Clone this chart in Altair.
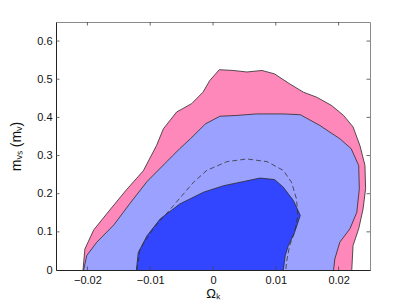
import altair as alt
import pandas as pd

# Outer (pink) 95% contour
pink_x = [-0.0207, -0.0204, -0.0190, -0.0163, -0.0138, -0.0111, -0.0090, -0.0079, -0.0058, -0.0034,
          -0.0016, -0.0005, 0.0010, 0.0032, 0.0054, 0.0078, 0.0098, 0.0122, 0.0144, 0.0165,
          0.0189, 0.0208, 0.0223, 0.0234, 0.0242, 0.0243, 0.0239, 0.0232, 0.0223, 0.0221]
pink_y = [0.0, 0.055, 0.105, 0.160, 0.210, 0.260, 0.326, 0.370, 0.414, 0.436,
          0.466, 0.497, 0.525, 0.523, 0.519, 0.523, 0.514, 0.488, 0.466, 0.453,
          0.431, 0.405, 0.375, 0.326, 0.274, 0.213, 0.160, 0.108, 0.064, 0.0]

# Light blue 95% contour
lblue_x = [-0.0206, -0.0201, -0.0185, -0.0158, -0.0132, -0.0105, -0.0073, -0.0053, -0.0036, -0.0012,
           0.0011, 0.0037, 0.0069, 0.0112, 0.0139, 0.0170, 0.0202, 0.0220, 0.0232, 0.0233,
           0.0229, 0.0218, 0.0202, 0.0194, 0.0192]
lblue_y = [0.0, 0.038, 0.073, 0.118, 0.175, 0.232, 0.285, 0.318, 0.344, 0.383,
           0.403, 0.405, 0.409, 0.409, 0.407, 0.379, 0.344, 0.318, 0.274, 0.213,
           0.151, 0.108, 0.073, 0.029, 0.0]

# Dark blue 68% contour
dblue_x = [-0.0122, -0.0119, -0.0105, -0.0084, -0.0053, -0.0015, 0.0017, 0.0049, 0.0075, 0.0098,
           0.0112, 0.0128, 0.0139, 0.0130, 0.0120, 0.0115, 0.0112]
dblue_y = [0.0, 0.046, 0.090, 0.134, 0.173, 0.204, 0.221, 0.232, 0.241, 0.237,
           0.217, 0.182, 0.143, 0.099, 0.064, 0.038, 0.0]

# Dashed 68% contour
dash_x = [-0.0121, -0.0116, -0.0095, -0.0063, -0.0031, -0.0010, 0.0022, 0.0054, 0.0086, 0.0112,
          0.0125, 0.0133, 0.0135, 0.0130, 0.0122, 0.0117, 0.0116]
dash_y = [0.0, 0.055, 0.108, 0.169, 0.230, 0.261, 0.284, 0.291, 0.284, 0.261,
          0.230, 0.186, 0.143, 0.099, 0.064, 0.020, 0.0]

x_ticks = [-0.02, -0.01, 0.0, 0.01, 0.02]
y_ticks = [0.0, 0.1, 0.2, 0.3, 0.4, 0.5, 0.6]

W, H = 314, 248
FONT = "Liberation Sans"

def frame(xs, ys):
    return pd.DataFrame({"x": xs, "y": ys, "i": list(range(len(xs)))})

xscale = alt.Scale(domain=[-0.025, 0.025], nice=False, zero=False)
yscale = alt.Scale(domain=[0, 0.65], nice=False, zero=False)

xenc = alt.X("x:Q", scale=xscale,
             axis=alt.Axis(values=x_ticks, format=".2~f", title="Ωₖ", tickSize=0,
                           labelPadding=4, titleY=27, titleBaseline="alphabetic", grid=False))
yenc = alt.Y("y:Q", scale=yscale,
             axis=alt.Axis(values=y_ticks, format=".1~f", title="mᵥₛ (mᵥ)", tickSize=0,
                           labelPadding=4, titlePadding=13, titleFontSize=14, grid=False))

def poly(xs, ys, color):
    return alt.Chart(frame(xs, ys)).mark_line(
        filled=True, fill=color, stroke="#2a2a2a", strokeWidth=0.8, interpolate="linear"
    ).encode(x=xenc, y=yenc, order=alt.Order("i:Q"))

pink = poly(pink_x, pink_y, "#FF88BB")
lblue = poly(lblue_x, lblue_y, "#9BA1FF")
dblue = poly(dblue_x, dblue_y, "#3346FF")

dashed = alt.Chart(frame(dash_x, dash_y)).mark_line(
    stroke="#333333", strokeWidth=0.8, strokeDash=[5, 3]
).encode(x=alt.X("x:Q", scale=xscale), y=alt.Y("y:Q", scale=yscale), order=alt.Order("i:Q"))

xt = pd.DataFrame({"t": x_ticks})
yt = pd.DataFrame({"t": y_ticks[1:]})
tick_col = "#444444"
bottom_ticks = alt.Chart(xt).mark_rule(color=tick_col, strokeWidth=0.8).encode(
    x=alt.X("t:Q", scale=xscale), y=alt.value(H), y2=alt.value(H - 3.5))
top_ticks = alt.Chart(xt).mark_rule(color=tick_col, strokeWidth=0.8).encode(
    x=alt.X("t:Q", scale=xscale), y=alt.value(0), y2=alt.value(3.5))
left_ticks = alt.Chart(yt).mark_rule(color=tick_col, strokeWidth=0.8).encode(
    y=alt.Y("t:Q", scale=yscale), x=alt.value(0), x2=alt.value(3.5))
right_ticks = alt.Chart(yt).mark_rule(color=tick_col, strokeWidth=0.8).encode(
    y=alt.Y("t:Q", scale=yscale), x=alt.value(W), x2=alt.value(W - 3.5))

chart = alt.layer(pink, lblue, dblue, dashed, bottom_ticks, top_ticks, left_ticks, right_ticks).properties(
    width=W, height=H,
    autosize=alt.AutoSizeParams(type="none"),
    padding={"left": 48, "top": 14, "right": 31, "bottom": 30},
).configure_view(
    stroke="#8a8a8a", strokeWidth=1
).configure_axis(
    domainColor="#222222", domainWidth=1,
    labelFont=FONT, labelFontSize=11, labelColor="#111111",
    titleFont=FONT, titleFontSize=13, titleFontWeight="normal", titleColor="#111111",
)

chart.save("out.html", embed_options={"renderer": "svg", "actions": False})
